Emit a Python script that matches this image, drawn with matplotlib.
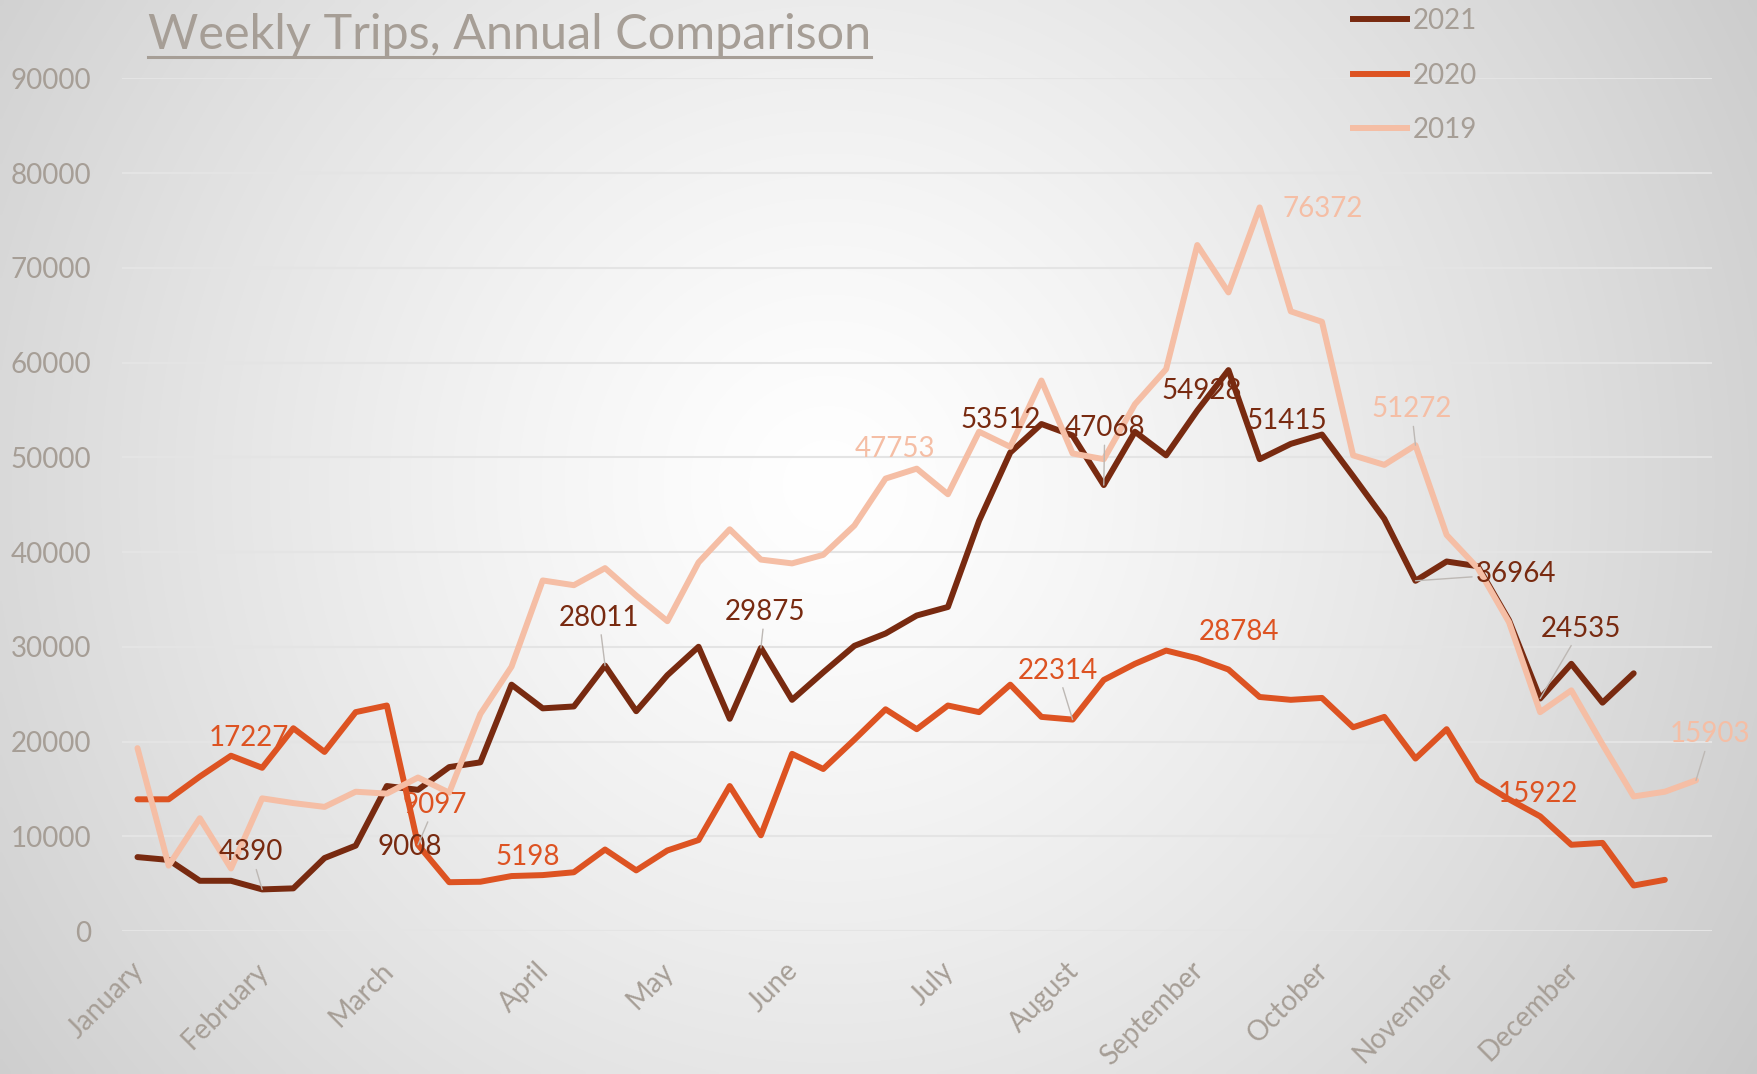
import matplotlib
matplotlib.use("Agg")
import matplotlib.pyplot as plt
import matplotlib.transforms as mtransforms
import numpy as np
from matplotlib.lines import Line2D

# ---------------- data ----------------
week_labels = ["January", "", "", "", "February", "", "", "", "March", "", "", "", "", "April",
               "", "", "", "May", "", "", "", "June", "", "", "", "", "July", "", "", "",
               "August", "", "", "", "September", "", "", "", "October", "", "", "", "November",
               "", "", "", "December", "", "", "", ""]

trips_2021 = [7800, 7500, 5300, 5300, 4390, 4500, 7700, 9008, 15300, 14900, 17300, 17800,
              26000, 23500, 23700, 28011, 23200, 27000, 30000, 22400, 29875, 24400, 27300,
              30100, 31400, 33300, 34200, 43300, 50500, 53512, 52300, 47068, 52700, 50200,
              54928, 59200, 49800, 51415, 52400, 48000, 43500, 36964, 39000, 38500, 32800,
              24535, 28200, 24100, 27200]

trips_2020 = [13900, 13900, 16300, 18500, 17227, 21400, 18900, 23100, 23800, 9097, 5150, 5198,
              5800, 5900, 6200, 8600, 6400, 8500, 9600, 15300, 10100, 18700, 17100, 20200,
              23400, 21300, 23800, 23100, 26000, 22600, 22314, 26500, 28200, 29600, 28784,
              27600, 24700, 24400, 24600, 21500, 22600, 18200, 21300, 15922, 13900, 12100,
              9100, 9300, 4800, 5400]

trips_2019 = [19300, 6900, 11900, 6600, 14000, 13500, 13100, 14700, 14500, 16200, 14600, 22900,
              27900, 37000, 36500, 38300, 35400, 32700, 38900, 42400, 39200, 38800, 39700,
              42800, 47753, 48800, 46100, 52700, 51100, 58100, 50400, 49800, 55600, 59300,
              72400, 67400, 76372, 65400, 64300, 50200, 49200, 51272, 41800, 38300, 32600,
              23100, 25400, 19700, 14200, 14700, 15903]

series_names = ["2021", "2020", "2019"]
y_ticks = [0, 10000, 20000, 30000, 40000, 50000, 60000, 70000, 80000, 90000]
title_text = "Weekly Trips, Annual Comparison"

# ---------------- style ----------------
W, H = 1758, 1074
FONT = ["Lato", "DejaVu Sans"]
plt.rcParams["font.family"] = FONT
colors = {"2021": "#782A10", "2020": "#DD5322", "2019": "#F5BEA5"}
text_grey = "#A69E96"
LW = 4.3

fig = plt.figure(figsize=(W / 100, H / 100), dpi=100)

# radial background gradient
bg = fig.add_axes([0, 0, 1, 1], zorder=-10)
ny, nx = 270, 440
yy, xx = np.mgrid[0:ny, 0:nx]
cx, cy = 0.47 * nx, 0.45 * ny
d = np.sqrt(((xx - cx) / nx) ** 2 + ((yy - cy) / ny * (H / W)) ** 2)
d = d / d.max()
val = 1.0 - 0.21 * d ** 1.25
img = np.dstack([val, val, val])
bg.imshow(img, extent=[0, 1, 0, 1], aspect="auto", origin="upper", interpolation="bilinear")
bg.set_axis_off()

# main axes
left, right = 121.9 / W, 1711.6 / W
bottom, top = 1 - 931.0 / H, 1 - 78.3 / H
ax = fig.add_axes([left, bottom, right - left, top - bottom])
ax.set_facecolor("none")

n = len(week_labels)
ax.set_xlim(-0.5, n - 0.5)
ax.set_ylim(0, 90000)

series = {"2021": trips_2021, "2020": trips_2020, "2019": trips_2019}
for name in series_names:
    vals = series[name]
    ax.plot(np.arange(len(vals)), vals, color=colors[name], lw=LW,
            solid_joinstyle="round", solid_capstyle="round", label=name, zorder=3)

ax.set_yticks(y_ticks)
ax.set_yticklabels([str(v) for v in y_ticks])
tick_idx = [i for i, s in enumerate(week_labels) if s]
ax.set_xticks(tick_idx)
ax.set_xticklabels([week_labels[i] for i in tick_idx], rotation=45, ha="right",
                   va="top", rotation_mode="anchor")
ax.tick_params(axis="both", length=0, labelsize=20, labelcolor=text_grey)
ax.tick_params(axis="y", pad=22)
ax.tick_params(axis="x", pad=19)
shift = mtransforms.ScaledTranslation(-7 / 100, 0, fig.dpi_scale_trans)
for lab in ax.get_xticklabels():
    lab.set_transform(lab.get_transform() + shift)
ax.grid(axis="y", color="#E4E4E4", lw=1.5, zorder=0)
ax.grid(axis="x", visible=False)
for sp in ax.spines.values():
    sp.set_visible(False)

# data labels: (series, index, dx px, dy px, leader line)
label_specs = [
    ("2021", 4, -11, 37, True), ("2021", 7, 54, -1, False), ("2021", 15, -6, 48, True),
    ("2021", 20, 4, 36, True), ("2021", 29, -41, 4, False), ("2021", 31, 1, 57, True),
    ("2021", 34, 4, 20, False), ("2021", 37, -4, 23, False), ("2021", 41, 101, 7, True),
    ("2021", 45, 41, 70, True),
    ("2020", 4, -13, 30, False), ("2020", 9, 17, 40, True), ("2020", 11, 47, 25, False),
    ("2020", 30, -15, 49, True), ("2020", 34, 42, 26, False), ("2020", 43, 60, -14, False),
    ("2019", 24, 9, 30, False), ("2019", 36, 63, -2, False), ("2019", 41, -4, 36, True),
    ("2019", 50, 14, 46, True),
]
for name, i, dx, dy, leader in label_specs:
    v = series[name][i]
    kw = {}
    if leader:
        kw["arrowprops"] = dict(arrowstyle="-", color="#BDB8B4", lw=1.0,
                                shrinkA=1, shrinkB=0)
    ax.annotate(str(v), xy=(i, v), xytext=(dx, dy), textcoords="offset pixels",
                ha="center", va="center", fontsize=20, color=colors[name],
                zorder=5, annotation_clip=False, **kw)

# legend
handles = [Line2D([0], [0], color=colors[s], lw=LW) for s in series_names]
leg = fig.legend(handles, series_names, loc="upper left",
                 bbox_to_anchor=(1353 / W, 1 - 8 / H), frameon=False,
                 fontsize=20, handlelength=1.95, handletextpad=0.2,
                 labelspacing=1.03, borderpad=0, borderaxespad=0)
for t in leg.get_texts():
    t.set_color(text_grey)

# title with underline
title = fig.text(148 / W, 1 - 49 / H, title_text, fontsize=35, color=text_grey,
                 ha="left", va="baseline")
fig.canvas.draw()
bb = title.get_window_extent(renderer=fig.canvas.get_renderer())
uy = (H - 57) / H
fig.add_artist(Line2D([bb.x0 / W, bb.x1 / W], [uy, uy], color=text_grey, lw=2.2,
                      transform=fig.transFigure))

fig.savefig("out.png", dpi=100)
